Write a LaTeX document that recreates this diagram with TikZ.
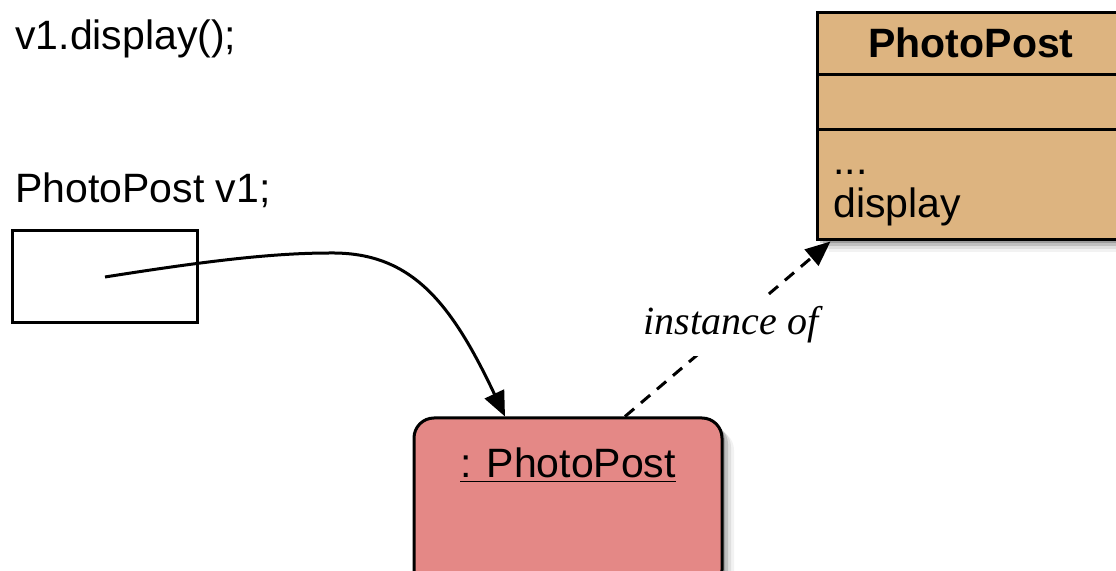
\documentclass[tikz,border=0pt]{standalone}
\usepackage{fontspec}
\setmainfont{Liberation Serif}
\newfontfamily\lsans{Liberation Sans}
\usetikzlibrary{arrows.meta,shadows}
\definecolor{objpink}{RGB}{228,136,134}
\definecolor{clstan}{RGB}{221,180,128}
\tikzset{
  txt/.style={inner sep=0pt, anchor=base west, font=\lsans\fontsize{20.5}{24}\selectfont},
  conn/.style={line width=1.5pt, -{Triangle[length=12.5pt,width=10.5pt]}},
  softshadow/.style={
    drop shadow={shadow xshift=1.5pt, shadow yshift=-1.5pt, fill=black, opacity=0.18},
    drop shadow={shadow xshift=3pt, shadow yshift=-3pt, fill=black, opacity=0.14},
    drop shadow={shadow xshift=4.5pt, shadow yshift=-4.5pt, fill=black, opacity=0.08},
    drop shadow={shadow xshift=6pt, shadow yshift=-6pt, fill=black, opacity=0.05}},
}
\begin{document}
\begin{tikzpicture}[x=0.5pt,y=-0.5pt]
\useasboundingbox (0,0) rectangle (1116,571);
\clip (0,0) rectangle (1116,571);
% texts
\node[txt] (call) at (15,50) {v1.display();};
\node[txt] (decl) at (15,203) {PhotoPost v1;};
% reference box
\node[draw, line width=1.5pt, minimum width=92.5pt, minimum height=46pt, inner sep=0pt] (ref) at (104.5,277) {};
\coordinate (refdot) at (105,277);
\coordinate (bend) at (330,253);
% object box
\node[draw, line width=1.5pt, fill=objpink, rounded corners=10pt, minimum width=154pt, minimum height=86pt, inner sep=0pt, softshadow] (obj) at (568,504) {};
\node[txt, anchor=base] (objname) at (568,478) {\underline{: PhotoPost}};
% class box
\node[draw, line width=1.5pt, fill=clstan, minimum width=154pt, minimum height=113.5pt, inner sep=0pt, softshadow] (cls) at (971,126.5) {};
\draw[line width=1.5pt] (817,75) -- (1125,75);
\draw[line width=1.5pt] (817,130) -- (1125,130);
\node[txt, anchor=base, font=\lsans\bfseries\fontsize{20.5}{24}\selectfont] (clsname) at (971,58) {PhotoPost};
\node[txt] (dots) at (833,175) {...};
\node[txt] (meth) at (833,218) {display};
% connectors
\draw[conn] (refdot) .. controls (200,262) and (270,253) .. (bend) .. controls (410,252) and (450,300) .. ([xshift=-31.5pt]obj.north);
\draw[conn, dash pattern=on 6pt off 4.5pt] ([xshift=28.5pt]obj.north) -- ([xshift=7.5pt]cls.south west);
\node[fill=white, inner xsep=2pt, inner ysep=6pt, anchor=base, font=\itshape\fontsize{20}{24}\selectfont] (inst) at (731,335) {instance of};
\end{tikzpicture}
\end{document}
